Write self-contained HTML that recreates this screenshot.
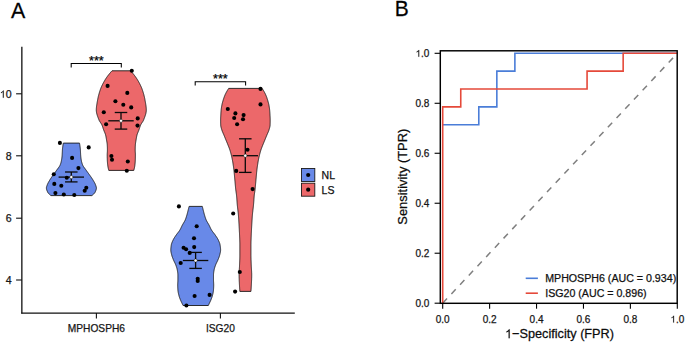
<!DOCTYPE html>
<html><head><meta charset="utf-8"><style>
html,body{margin:0;padding:0;background:#fff;width:685px;height:342px;overflow:hidden}
svg{display:block}
text{font-family:"Liberation Sans",sans-serif;stroke:#111;stroke-width:0.25px}
.tk{font-size:10.6px;fill:#1a1a1a}
.tkx{font-size:10.2px;fill:#1a1a1a}
.tkr{font-size:10px;fill:#1a1a1a}
.star{font-size:12.6px;fill:#000}
.leg{font-size:10.5px;fill:#111}
.legr{font-size:10.65px;fill:#111}
.ttl{font-size:12.9px;fill:#0a0a0a}
.ttl2{font-size:12.7px;fill:#0a0a0a}
.pl{font-size:21px;fill:#000}
</style></head><body>
<svg width="685" height="342" viewBox="0 0 685 342">
<line x1="21.85" y1="46.8" x2="21.85" y2="313.5" stroke="#111" stroke-width="1.3"/>
<line x1="21.2" y1="313.1" x2="294.8" y2="313.1" stroke="#111" stroke-width="1.3"/>
<line x1="16.1" y1="93.8" x2="21.85" y2="93.8" stroke="#111" stroke-width="1.1"/>
<text x="11.6" y="97.75" text-anchor="end" class="tk"> 0</text>
<path transform=" translate(-0.190,97.750) scale(0.005176,-0.005176)" d="M763,0 L583,0 L583,1098 Q518,1038 412,979 Q307,920 223,890 L223,1057 Q374,1125 487,1221 Q600,1318 647,1409 L763,1409 Z" fill="#1a1a1a" stroke="#111" stroke-width="0.1" vector-effect="non-scaling-stroke"/>
<line x1="16.1" y1="155.8" x2="21.85" y2="155.8" stroke="#111" stroke-width="1.1"/>
<text x="11.6" y="159.75" text-anchor="end" class="tk">8</text>
<line x1="16.1" y1="218.2" x2="21.85" y2="218.2" stroke="#111" stroke-width="1.1"/>
<text x="11.6" y="222.14999999999998" text-anchor="end" class="tk">6</text>
<line x1="16.1" y1="280" x2="21.85" y2="280" stroke="#111" stroke-width="1.1"/>
<text x="11.6" y="283.95" text-anchor="end" class="tk">4</text>
<line x1="96.4" y1="312.9" x2="96.4" y2="318.5" stroke="#111" stroke-width="1.1"/>
<text x="96.4" y="331.6" text-anchor="middle" class="tkx">MPHOSPH6</text>
<line x1="220.4" y1="312.9" x2="220.4" y2="318.5" stroke="#111" stroke-width="1.1"/>
<text x="220.4" y="331.6" text-anchor="middle" class="tkx">ISG20</text>
<path d="M79.50,143.10 L79.59,143.60 L79.67,144.09 L79.75,144.59 L79.83,145.08 L79.90,145.58 L79.98,146.07 L80.04,146.57 L80.11,147.06 L80.17,147.56 L80.22,148.05 L80.28,148.55 L80.32,149.04 L80.37,149.54 L80.40,150.03 L80.43,150.53 L80.46,151.02 L80.48,151.52 L80.51,152.02 L80.53,152.51 L80.55,153.01 L80.57,153.50 L80.59,154.00 L80.62,154.49 L80.65,154.99 L80.69,155.48 L80.73,155.98 L80.78,156.47 L80.83,156.97 L80.88,157.46 L80.95,157.96 L81.01,158.45 L81.08,158.95 L81.16,159.44 L81.24,159.94 L81.33,160.43 L81.43,160.93 L81.53,161.43 L81.65,161.92 L81.78,162.42 L81.93,162.91 L82.08,163.41 L82.24,163.90 L82.42,164.40 L82.61,164.89 L82.82,165.39 L83.07,165.88 L83.37,166.38 L83.69,166.87 L84.04,167.37 L84.41,167.86 L84.78,168.36 L85.16,168.85 L85.53,169.35 L85.89,169.85 L86.24,170.34 L86.59,170.84 L86.95,171.33 L87.30,171.83 L87.67,172.32 L88.03,172.82 L88.39,173.31 L88.75,173.81 L89.11,174.30 L89.46,174.80 L89.81,175.29 L90.16,175.79 L90.51,176.28 L90.86,176.78 L91.21,177.27 L91.56,177.77 L91.89,178.27 L92.23,178.76 L92.54,179.26 L92.85,179.75 L93.15,180.25 L93.44,180.74 L93.73,181.24 L94.02,181.73 L94.30,182.23 L94.57,182.72 L94.83,183.22 L95.07,183.71 L95.29,184.21 L95.49,184.70 L95.67,185.20 L95.85,185.69 L96.03,186.19 L96.18,186.68 L96.31,187.18 L96.38,187.68 L96.40,188.17 L96.35,188.67 L96.26,189.16 L96.14,189.66 L95.98,190.15 L95.79,190.65 L95.58,191.14 L95.36,191.64 L95.14,192.13 L94.85,192.63 L94.49,193.12 L94.06,193.62 L93.58,194.11 L93.05,194.61 L92.49,195.10 L91.90,195.60 L50.90,195.60 L50.31,195.10 L49.75,194.61 L49.22,194.11 L48.74,193.62 L48.31,193.12 L47.95,192.63 L47.66,192.13 L47.44,191.64 L47.22,191.14 L47.01,190.65 L46.82,190.15 L46.66,189.66 L46.54,189.16 L46.45,188.67 L46.40,188.17 L46.42,187.68 L46.49,187.18 L46.62,186.68 L46.77,186.19 L46.95,185.69 L47.13,185.20 L47.31,184.70 L47.51,184.21 L47.73,183.71 L47.97,183.22 L48.23,182.72 L48.50,182.23 L48.78,181.73 L49.07,181.24 L49.36,180.74 L49.65,180.25 L49.95,179.75 L50.26,179.26 L50.57,178.76 L50.91,178.27 L51.24,177.77 L51.59,177.27 L51.94,176.78 L52.29,176.28 L52.64,175.79 L52.99,175.29 L53.34,174.80 L53.69,174.30 L54.05,173.81 L54.41,173.31 L54.77,172.82 L55.13,172.32 L55.50,171.83 L55.85,171.33 L56.21,170.84 L56.56,170.34 L56.91,169.85 L57.27,169.35 L57.64,168.85 L58.02,168.36 L58.39,167.86 L58.76,167.37 L59.11,166.87 L59.43,166.38 L59.73,165.88 L59.98,165.39 L60.19,164.89 L60.38,164.40 L60.56,163.90 L60.72,163.41 L60.87,162.91 L61.02,162.42 L61.15,161.92 L61.27,161.43 L61.37,160.93 L61.47,160.43 L61.56,159.94 L61.64,159.44 L61.72,158.95 L61.79,158.45 L61.85,157.96 L61.92,157.46 L61.97,156.97 L62.02,156.47 L62.07,155.98 L62.11,155.48 L62.15,154.99 L62.18,154.49 L62.21,154.00 L62.23,153.50 L62.25,153.01 L62.27,152.51 L62.29,152.02 L62.32,151.52 L62.34,151.02 L62.37,150.53 L62.40,150.03 L62.43,149.54 L62.48,149.04 L62.52,148.55 L62.58,148.05 L62.63,147.56 L62.69,147.06 L62.76,146.57 L62.82,146.07 L62.90,145.58 L62.97,145.08 L63.05,144.59 L63.13,144.09 L63.21,143.60 L63.30,143.10 Z" fill="#6889e8" stroke="#1a1a1a" stroke-width="0.9" stroke-linejoin="round"/>
<path d="M130.60,70.80 L131.04,71.30 L131.48,71.80 L131.91,72.29 L132.34,72.79 L132.76,73.29 L133.17,73.79 L133.57,74.29 L133.97,74.78 L134.36,75.28 L134.74,75.78 L135.11,76.28 L135.48,76.78 L135.83,77.27 L136.18,77.77 L136.51,78.27 L136.84,78.77 L137.15,79.27 L137.46,79.76 L137.75,80.26 L138.04,80.76 L138.33,81.26 L138.61,81.76 L138.89,82.25 L139.16,82.75 L139.43,83.25 L139.69,83.75 L139.94,84.25 L140.19,84.74 L140.43,85.24 L140.67,85.74 L140.90,86.24 L141.12,86.74 L141.34,87.23 L141.55,87.73 L141.75,88.23 L141.94,88.73 L142.13,89.23 L142.31,89.72 L142.47,90.22 L142.64,90.72 L142.80,91.22 L142.96,91.72 L143.11,92.21 L143.26,92.71 L143.41,93.21 L143.55,93.71 L143.69,94.21 L143.83,94.70 L143.96,95.20 L144.08,95.70 L144.21,96.20 L144.33,96.70 L144.44,97.19 L144.55,97.69 L144.66,98.19 L144.76,98.69 L144.85,99.19 L144.94,99.68 L145.03,100.18 L145.12,100.68 L145.21,101.18 L145.30,101.68 L145.39,102.17 L145.48,102.67 L145.57,103.17 L145.65,103.67 L145.73,104.17 L145.81,104.66 L145.89,105.16 L145.96,105.66 L146.03,106.16 L146.09,106.66 L146.14,107.15 L146.19,107.65 L146.23,108.15 L146.26,108.65 L146.28,109.15 L146.30,109.64 L146.30,110.14 L146.28,110.64 L146.25,111.14 L146.19,111.64 L146.12,112.13 L146.03,112.63 L145.93,113.13 L145.82,113.63 L145.69,114.13 L145.55,114.62 L145.40,115.12 L145.23,115.62 L145.07,116.12 L144.89,116.62 L144.71,117.11 L144.52,117.61 L144.33,118.11 L144.14,118.61 L143.95,119.11 L143.75,119.60 L143.56,120.10 L143.33,120.60 L143.06,121.10 L142.76,121.60 L142.43,122.09 L142.10,122.59 L141.76,123.09 L141.43,123.59 L141.13,124.09 L140.85,124.58 L140.61,125.08 L140.41,125.58 L140.22,126.08 L140.04,126.58 L139.87,127.07 L139.70,127.57 L139.55,128.07 L139.39,128.57 L139.22,129.07 L139.05,129.56 L138.88,130.06 L138.69,130.56 L138.49,131.06 L138.28,131.56 L138.07,132.05 L137.86,132.55 L137.66,133.05 L137.46,133.55 L137.29,134.05 L137.13,134.54 L136.99,135.04 L136.87,135.54 L136.76,136.04 L136.65,136.54 L136.55,137.03 L136.46,137.53 L136.37,138.03 L136.29,138.53 L136.21,139.03 L136.13,139.52 L136.05,140.02 L135.96,140.52 L135.88,141.02 L135.79,141.52 L135.71,142.01 L135.63,142.51 L135.55,143.01 L135.49,143.51 L135.43,144.01 L135.38,144.50 L135.35,145.00 L135.33,145.50 L135.30,146.00 L135.28,146.50 L135.26,146.99 L135.24,147.49 L135.23,147.99 L135.22,148.49 L135.21,148.99 L135.20,149.48 L135.20,149.98 L135.21,150.48 L135.22,150.98 L135.24,151.48 L135.27,151.97 L135.30,152.47 L135.33,152.97 L135.36,153.47 L135.38,153.97 L135.39,154.46 L135.40,154.96 L135.40,155.46 L135.40,155.96 L135.39,156.46 L135.38,156.95 L135.37,157.45 L135.36,157.95 L135.35,158.45 L135.33,158.95 L135.32,159.44 L135.30,159.94 L135.28,160.44 L135.26,160.94 L135.23,161.44 L135.20,161.93 L135.16,162.43 L135.11,162.93 L135.07,163.43 L135.02,163.93 L134.96,164.42 L134.91,164.92 L134.85,165.42 L134.78,165.92 L134.70,166.42 L134.61,166.91 L134.51,167.41 L134.41,167.91 L134.30,168.41 L134.18,168.91 L134.06,169.40 L133.93,169.90 L133.80,170.40 L108.80,170.40 L108.67,169.90 L108.54,169.40 L108.42,168.91 L108.30,168.41 L108.19,167.91 L108.09,167.41 L107.99,166.91 L107.90,166.42 L107.82,165.92 L107.75,165.42 L107.69,164.92 L107.64,164.42 L107.58,163.93 L107.53,163.43 L107.49,162.93 L107.44,162.43 L107.40,161.93 L107.37,161.44 L107.34,160.94 L107.32,160.44 L107.30,159.94 L107.28,159.44 L107.27,158.95 L107.25,158.45 L107.24,157.95 L107.23,157.45 L107.22,156.95 L107.21,156.46 L107.20,155.96 L107.20,155.46 L107.20,154.96 L107.21,154.46 L107.22,153.97 L107.24,153.47 L107.27,152.97 L107.30,152.47 L107.33,151.97 L107.36,151.48 L107.38,150.98 L107.39,150.48 L107.40,149.98 L107.40,149.48 L107.39,148.99 L107.38,148.49 L107.37,147.99 L107.36,147.49 L107.34,146.99 L107.32,146.50 L107.30,146.00 L107.27,145.50 L107.25,145.00 L107.22,144.50 L107.17,144.01 L107.11,143.51 L107.05,143.01 L106.97,142.51 L106.89,142.01 L106.81,141.52 L106.72,141.02 L106.64,140.52 L106.55,140.02 L106.47,139.52 L106.39,139.03 L106.31,138.53 L106.23,138.03 L106.14,137.53 L106.05,137.03 L105.95,136.54 L105.84,136.04 L105.73,135.54 L105.61,135.04 L105.47,134.54 L105.31,134.05 L105.14,133.55 L104.94,133.05 L104.74,132.55 L104.53,132.05 L104.32,131.56 L104.11,131.06 L103.91,130.56 L103.72,130.06 L103.55,129.56 L103.38,129.07 L103.21,128.57 L103.05,128.07 L102.90,127.57 L102.73,127.07 L102.56,126.58 L102.38,126.08 L102.19,125.58 L101.99,125.08 L101.75,124.58 L101.47,124.09 L101.17,123.59 L100.84,123.09 L100.50,122.59 L100.17,122.09 L99.84,121.60 L99.54,121.10 L99.27,120.60 L99.04,120.10 L98.85,119.60 L98.65,119.11 L98.46,118.61 L98.27,118.11 L98.08,117.61 L97.89,117.11 L97.71,116.62 L97.53,116.12 L97.37,115.62 L97.20,115.12 L97.05,114.62 L96.91,114.13 L96.78,113.63 L96.67,113.13 L96.57,112.63 L96.48,112.13 L96.41,111.64 L96.35,111.14 L96.32,110.64 L96.30,110.14 L96.30,109.64 L96.32,109.15 L96.34,108.65 L96.37,108.15 L96.41,107.65 L96.46,107.15 L96.51,106.66 L96.57,106.16 L96.64,105.66 L96.71,105.16 L96.79,104.66 L96.87,104.17 L96.95,103.67 L97.03,103.17 L97.12,102.67 L97.21,102.17 L97.30,101.68 L97.39,101.18 L97.48,100.68 L97.57,100.18 L97.66,99.68 L97.75,99.19 L97.84,98.69 L97.94,98.19 L98.05,97.69 L98.16,97.19 L98.27,96.70 L98.39,96.20 L98.52,95.70 L98.64,95.20 L98.77,94.70 L98.91,94.21 L99.05,93.71 L99.19,93.21 L99.34,92.71 L99.49,92.21 L99.64,91.72 L99.80,91.22 L99.96,90.72 L100.13,90.22 L100.29,89.72 L100.47,89.23 L100.66,88.73 L100.85,88.23 L101.05,87.73 L101.26,87.23 L101.48,86.74 L101.70,86.24 L101.93,85.74 L102.17,85.24 L102.41,84.74 L102.66,84.25 L102.91,83.75 L103.17,83.25 L103.44,82.75 L103.71,82.25 L103.99,81.76 L104.27,81.26 L104.56,80.76 L104.85,80.26 L105.14,79.76 L105.45,79.27 L105.76,78.77 L106.09,78.27 L106.42,77.77 L106.77,77.27 L107.12,76.78 L107.49,76.28 L107.86,75.78 L108.24,75.28 L108.63,74.78 L109.03,74.29 L109.43,73.79 L109.84,73.29 L110.26,72.79 L110.69,72.29 L111.12,71.80 L111.56,71.30 L112.00,70.80 Z" fill="#ec686a" stroke="#1a1a1a" stroke-width="0.9" stroke-linejoin="round"/>
<path d="M202.30,206.40 L202.42,206.90 L202.55,207.40 L202.67,207.89 L202.79,208.39 L202.92,208.89 L203.04,209.39 L203.17,209.89 L203.30,210.38 L203.42,210.88 L203.55,211.38 L203.67,211.88 L203.79,212.38 L203.92,212.87 L204.05,213.37 L204.18,213.87 L204.32,214.37 L204.46,214.87 L204.61,215.36 L204.76,215.86 L204.91,216.36 L205.06,216.86 L205.22,217.36 L205.39,217.85 L205.56,218.35 L205.74,218.85 L205.93,219.35 L206.14,219.85 L206.35,220.34 L206.60,220.84 L206.86,221.34 L207.14,221.84 L207.44,222.34 L207.74,222.83 L208.04,223.33 L208.34,223.83 L208.63,224.33 L208.91,224.83 L209.17,225.32 L209.42,225.82 L209.66,226.32 L209.89,226.82 L210.12,227.32 L210.36,227.81 L210.59,228.31 L210.84,228.81 L211.11,229.31 L211.39,229.81 L211.69,230.30 L212.02,230.80 L212.38,231.30 L212.75,231.80 L213.14,232.30 L213.53,232.79 L213.93,233.29 L214.32,233.79 L214.69,234.29 L215.05,234.79 L215.39,235.28 L215.73,235.78 L216.07,236.28 L216.41,236.78 L216.74,237.28 L217.06,237.77 L217.37,238.27 L217.66,238.77 L217.94,239.27 L218.19,239.77 L218.42,240.26 L218.65,240.76 L218.87,241.26 L219.08,241.76 L219.29,242.26 L219.48,242.75 L219.66,243.25 L219.82,243.75 L219.95,244.25 L220.06,244.75 L220.14,245.24 L220.21,245.74 L220.29,246.24 L220.35,246.74 L220.42,247.24 L220.47,247.73 L220.52,248.23 L220.56,248.73 L220.58,249.23 L220.60,249.73 L220.60,250.22 L220.57,250.72 L220.52,251.22 L220.45,251.72 L220.36,252.22 L220.25,252.71 L220.14,253.21 L220.02,253.71 L219.90,254.21 L219.77,254.71 L219.65,255.20 L219.51,255.70 L219.36,256.20 L219.19,256.70 L219.02,257.19 L218.83,257.69 L218.63,258.19 L218.43,258.69 L218.23,259.19 L218.03,259.68 L217.82,260.18 L217.61,260.68 L217.38,261.18 L217.13,261.68 L216.89,262.17 L216.64,262.67 L216.39,263.17 L216.16,263.67 L215.93,264.17 L215.73,264.66 L215.54,265.16 L215.36,265.66 L215.18,266.16 L215.01,266.66 L214.84,267.15 L214.68,267.65 L214.53,268.15 L214.40,268.65 L214.27,269.15 L214.17,269.64 L214.08,270.14 L213.99,270.64 L213.90,271.14 L213.82,271.64 L213.75,272.13 L213.67,272.63 L213.61,273.13 L213.56,273.63 L213.53,274.13 L213.51,274.62 L213.50,275.12 L213.50,275.62 L213.50,276.12 L213.50,276.62 L213.50,277.11 L213.50,277.61 L213.50,278.11 L213.50,278.61 L213.50,279.11 L213.50,279.60 L213.50,280.10 L213.51,280.60 L213.52,281.10 L213.55,281.60 L213.58,282.09 L213.61,282.59 L213.63,283.09 L213.66,283.59 L213.68,284.09 L213.70,284.58 L213.70,285.08 L213.70,285.58 L213.69,286.08 L213.68,286.58 L213.66,287.07 L213.64,287.57 L213.61,288.07 L213.59,288.57 L213.56,289.07 L213.53,289.56 L213.50,290.06 L213.45,290.56 L213.39,291.06 L213.32,291.56 L213.24,292.05 L213.15,292.55 L213.04,293.05 L212.94,293.55 L212.82,294.05 L212.71,294.54 L212.59,295.04 L212.46,295.54 L212.33,296.04 L212.17,296.54 L212.01,297.03 L211.84,297.53 L211.66,298.03 L211.48,298.53 L211.28,299.03 L211.09,299.52 L210.89,300.02 L210.68,300.52 L210.46,301.02 L210.22,301.52 L209.98,302.01 L209.73,302.51 L209.50,303.01 L209.26,303.51 L209.02,304.01 L208.78,304.50 L208.54,305.00 L208.30,305.50 L183.10,305.50 L182.86,305.00 L182.62,304.50 L182.38,304.01 L182.14,303.51 L181.90,303.01 L181.67,302.51 L181.42,302.01 L181.18,301.52 L180.94,301.02 L180.72,300.52 L180.51,300.02 L180.31,299.52 L180.12,299.03 L179.92,298.53 L179.74,298.03 L179.56,297.53 L179.39,297.03 L179.23,296.54 L179.07,296.04 L178.94,295.54 L178.81,295.04 L178.69,294.54 L178.58,294.05 L178.46,293.55 L178.36,293.05 L178.25,292.55 L178.16,292.05 L178.08,291.56 L178.01,291.06 L177.95,290.56 L177.90,290.06 L177.87,289.56 L177.84,289.07 L177.81,288.57 L177.79,288.07 L177.76,287.57 L177.74,287.07 L177.72,286.58 L177.71,286.08 L177.70,285.58 L177.70,285.08 L177.70,284.58 L177.72,284.09 L177.74,283.59 L177.77,283.09 L177.79,282.59 L177.82,282.09 L177.85,281.60 L177.88,281.10 L177.89,280.60 L177.90,280.10 L177.90,279.60 L177.90,279.11 L177.90,278.61 L177.90,278.11 L177.90,277.61 L177.90,277.11 L177.90,276.62 L177.90,276.12 L177.90,275.62 L177.90,275.12 L177.89,274.62 L177.87,274.13 L177.84,273.63 L177.79,273.13 L177.73,272.63 L177.65,272.13 L177.58,271.64 L177.50,271.14 L177.41,270.64 L177.32,270.14 L177.23,269.64 L177.13,269.15 L177.00,268.65 L176.87,268.15 L176.72,267.65 L176.56,267.15 L176.39,266.66 L176.22,266.16 L176.04,265.66 L175.86,265.16 L175.67,264.66 L175.47,264.17 L175.24,263.67 L175.01,263.17 L174.76,262.67 L174.51,262.17 L174.27,261.68 L174.02,261.18 L173.79,260.68 L173.58,260.18 L173.37,259.68 L173.17,259.19 L172.97,258.69 L172.77,258.19 L172.57,257.69 L172.38,257.19 L172.21,256.70 L172.04,256.20 L171.89,255.70 L171.75,255.20 L171.63,254.71 L171.50,254.21 L171.38,253.71 L171.26,253.21 L171.15,252.71 L171.04,252.22 L170.95,251.72 L170.88,251.22 L170.83,250.72 L170.80,250.22 L170.80,249.73 L170.82,249.23 L170.84,248.73 L170.88,248.23 L170.93,247.73 L170.98,247.24 L171.05,246.74 L171.11,246.24 L171.19,245.74 L171.26,245.24 L171.34,244.75 L171.45,244.25 L171.58,243.75 L171.74,243.25 L171.92,242.75 L172.11,242.26 L172.32,241.76 L172.53,241.26 L172.75,240.76 L172.98,240.26 L173.21,239.77 L173.46,239.27 L173.74,238.77 L174.03,238.27 L174.34,237.77 L174.66,237.28 L174.99,236.78 L175.33,236.28 L175.67,235.78 L176.01,235.28 L176.35,234.79 L176.71,234.29 L177.08,233.79 L177.47,233.29 L177.87,232.79 L178.26,232.30 L178.65,231.80 L179.02,231.30 L179.38,230.80 L179.71,230.30 L180.01,229.81 L180.29,229.31 L180.56,228.81 L180.81,228.31 L181.04,227.81 L181.28,227.32 L181.51,226.82 L181.74,226.32 L181.98,225.82 L182.23,225.32 L182.49,224.83 L182.77,224.33 L183.06,223.83 L183.36,223.33 L183.66,222.83 L183.96,222.34 L184.26,221.84 L184.54,221.34 L184.80,220.84 L185.05,220.34 L185.26,219.85 L185.47,219.35 L185.66,218.85 L185.84,218.35 L186.01,217.85 L186.18,217.36 L186.34,216.86 L186.49,216.36 L186.64,215.86 L186.79,215.36 L186.94,214.87 L187.08,214.37 L187.22,213.87 L187.35,213.37 L187.48,212.87 L187.61,212.38 L187.73,211.88 L187.85,211.38 L187.98,210.88 L188.10,210.38 L188.23,209.89 L188.36,209.39 L188.48,208.89 L188.61,208.39 L188.73,207.89 L188.85,207.40 L188.98,206.90 L189.10,206.40 Z" fill="#6889e8" stroke="#1a1a1a" stroke-width="0.9" stroke-linejoin="round"/>
<path d="M262.10,88.40 L262.43,88.90 L262.76,89.40 L263.08,89.90 L263.39,90.40 L263.69,90.90 L263.98,91.40 L264.26,91.90 L264.53,92.40 L264.80,92.90 L265.05,93.40 L265.30,93.90 L265.53,94.40 L265.76,94.90 L265.97,95.40 L266.18,95.90 L266.37,96.40 L266.56,96.90 L266.75,97.40 L266.92,97.90 L267.09,98.40 L267.26,98.90 L267.42,99.40 L267.57,99.90 L267.72,100.40 L267.87,100.90 L268.01,101.40 L268.16,101.90 L268.29,102.40 L268.42,102.90 L268.55,103.40 L268.67,103.90 L268.78,104.40 L268.88,104.90 L268.98,105.40 L269.07,105.90 L269.15,106.40 L269.24,106.90 L269.32,107.40 L269.39,107.90 L269.46,108.40 L269.53,108.90 L269.59,109.40 L269.64,109.90 L269.69,110.40 L269.73,110.90 L269.77,111.40 L269.81,111.90 L269.85,112.40 L269.88,112.90 L269.91,113.40 L269.94,113.90 L269.97,114.40 L269.99,114.90 L270.02,115.40 L270.05,115.90 L270.08,116.40 L270.10,116.90 L270.13,117.40 L270.15,117.90 L270.17,118.40 L270.18,118.90 L270.20,119.40 L270.20,119.90 L270.20,120.40 L270.20,120.90 L270.19,121.40 L270.18,121.90 L270.18,122.40 L270.16,122.90 L270.15,123.40 L270.14,123.90 L270.12,124.40 L270.10,124.90 L270.08,125.40 L270.02,125.90 L269.94,126.40 L269.83,126.90 L269.71,127.40 L269.58,127.90 L269.43,128.40 L269.28,128.90 L269.13,129.40 L268.98,129.90 L268.83,130.40 L268.65,130.90 L268.46,131.40 L268.26,131.90 L268.04,132.40 L267.82,132.90 L267.60,133.40 L267.37,133.90 L267.15,134.40 L266.94,134.90 L266.74,135.40 L266.53,135.90 L266.33,136.40 L266.12,136.90 L265.92,137.40 L265.71,137.90 L265.51,138.40 L265.30,138.90 L265.10,139.40 L264.89,139.90 L264.69,140.40 L264.48,140.90 L264.27,141.40 L264.06,141.90 L263.86,142.40 L263.65,142.90 L263.44,143.40 L263.24,143.90 L263.04,144.40 L262.84,144.90 L262.64,145.40 L262.44,145.90 L262.24,146.40 L262.04,146.90 L261.84,147.40 L261.65,147.90 L261.46,148.40 L261.28,148.90 L261.10,149.40 L260.93,149.90 L260.77,150.40 L260.62,150.90 L260.47,151.40 L260.32,151.90 L260.18,152.40 L260.04,152.90 L259.91,153.40 L259.78,153.90 L259.65,154.40 L259.52,154.90 L259.40,155.40 L259.28,155.90 L259.16,156.40 L259.05,156.90 L258.93,157.40 L258.82,157.90 L258.71,158.40 L258.61,158.90 L258.51,159.40 L258.42,159.90 L258.33,160.40 L258.24,160.90 L258.15,161.40 L258.07,161.90 L257.98,162.40 L257.90,162.90 L257.82,163.40 L257.74,163.90 L257.66,164.40 L257.58,164.90 L257.51,165.40 L257.43,165.90 L257.36,166.40 L257.29,166.90 L257.23,167.40 L257.16,167.90 L257.10,168.40 L257.03,168.90 L256.97,169.40 L256.91,169.90 L256.85,170.40 L256.80,170.90 L256.74,171.40 L256.69,171.90 L256.64,172.40 L256.59,172.90 L256.55,173.40 L256.50,173.90 L256.45,174.40 L256.41,174.90 L256.36,175.40 L256.32,175.90 L256.27,176.40 L256.23,176.90 L256.19,177.40 L256.14,177.90 L256.10,178.40 L256.05,178.90 L256.01,179.40 L255.96,179.90 L255.91,180.40 L255.87,180.90 L255.82,181.40 L255.78,181.90 L255.73,182.40 L255.69,182.90 L255.64,183.40 L255.60,183.90 L255.55,184.40 L255.51,184.90 L255.46,185.40 L255.42,185.90 L255.37,186.40 L255.32,186.90 L255.28,187.40 L255.23,187.90 L255.18,188.40 L255.12,188.90 L255.07,189.40 L255.01,189.90 L254.95,190.40 L254.88,190.90 L254.81,191.40 L254.74,191.90 L254.66,192.40 L254.58,192.90 L254.51,193.40 L254.44,193.90 L254.37,194.40 L254.31,194.90 L254.26,195.40 L254.21,195.90 L254.16,196.40 L254.12,196.90 L254.08,197.40 L254.04,197.90 L254.00,198.40 L253.96,198.90 L253.93,199.40 L253.89,199.90 L253.86,200.40 L253.82,200.90 L253.79,201.40 L253.75,201.90 L253.71,202.40 L253.68,202.90 L253.64,203.40 L253.60,203.90 L253.55,204.40 L253.51,204.90 L253.46,205.40 L253.41,205.90 L253.36,206.40 L253.30,206.90 L253.25,207.40 L253.19,207.90 L253.13,208.40 L253.07,208.90 L253.01,209.40 L252.95,209.90 L252.89,210.40 L252.83,210.90 L252.77,211.40 L252.71,211.90 L252.65,212.40 L252.60,212.90 L252.55,213.40 L252.50,213.90 L252.45,214.40 L252.41,214.90 L252.37,215.40 L252.33,215.90 L252.29,216.40 L252.25,216.90 L252.22,217.40 L252.18,217.90 L252.15,218.40 L252.11,218.90 L252.08,219.40 L252.05,219.90 L252.02,220.40 L251.99,220.90 L251.96,221.40 L251.93,221.90 L251.90,222.40 L251.87,222.90 L251.84,223.40 L251.81,223.90 L251.78,224.40 L251.76,224.90 L251.73,225.40 L251.70,225.90 L251.67,226.40 L251.64,226.90 L251.62,227.40 L251.59,227.90 L251.56,228.40 L251.53,228.90 L251.51,229.40 L251.48,229.90 L251.46,230.40 L251.43,230.90 L251.41,231.40 L251.38,231.90 L251.36,232.40 L251.34,232.90 L251.31,233.40 L251.29,233.90 L251.27,234.40 L251.25,234.90 L251.23,235.40 L251.22,235.90 L251.20,236.40 L251.17,236.90 L251.15,237.40 L251.13,237.90 L251.11,238.40 L251.09,238.90 L251.08,239.40 L251.06,239.90 L251.04,240.40 L251.02,240.90 L251.01,241.40 L250.99,241.90 L250.98,242.40 L250.97,242.90 L250.96,243.40 L250.96,243.90 L250.95,244.40 L250.95,244.90 L250.95,245.40 L250.95,245.90 L250.95,246.40 L250.95,246.90 L250.95,247.40 L250.95,247.90 L250.95,248.40 L250.95,248.90 L250.95,249.40 L250.95,249.90 L250.95,250.40 L250.95,250.90 L250.95,251.40 L250.95,251.90 L250.95,252.40 L250.95,252.90 L250.95,253.40 L250.95,253.90 L250.95,254.40 L250.95,254.90 L250.95,255.40 L250.95,255.90 L250.96,256.40 L250.97,256.90 L250.98,257.40 L250.99,257.90 L251.00,258.40 L251.02,258.90 L251.03,259.40 L251.05,259.90 L251.07,260.40 L251.09,260.90 L251.11,261.40 L251.13,261.90 L251.15,262.40 L251.17,262.90 L251.19,263.40 L251.21,263.90 L251.23,264.40 L251.25,264.90 L251.27,265.40 L251.29,265.90 L251.31,266.40 L251.34,266.90 L251.37,267.40 L251.39,267.90 L251.42,268.40 L251.45,268.90 L251.48,269.40 L251.51,269.90 L251.54,270.40 L251.57,270.90 L251.60,271.40 L251.62,271.90 L251.64,272.40 L251.66,272.90 L251.68,273.40 L251.69,273.90 L251.70,274.40 L251.70,274.90 L251.70,275.40 L251.70,275.90 L251.69,276.40 L251.68,276.90 L251.67,277.40 L251.66,277.90 L251.64,278.40 L251.62,278.90 L251.61,279.40 L251.59,279.90 L251.57,280.40 L251.54,280.90 L251.52,281.40 L251.50,281.90 L251.47,282.40 L251.45,282.90 L251.43,283.40 L251.40,283.90 L251.38,284.40 L251.35,284.90 L251.33,285.40 L251.31,285.90 L251.28,286.40 L251.25,286.90 L251.22,287.40 L251.19,287.90 L251.16,288.40 L251.13,288.90 L251.09,289.40 L251.06,289.90 L251.02,290.40 L250.99,290.90 L250.95,291.40 L239.85,291.40 L239.81,290.90 L239.78,290.40 L239.74,289.90 L239.71,289.40 L239.67,288.90 L239.64,288.40 L239.61,287.90 L239.58,287.40 L239.55,286.90 L239.52,286.40 L239.49,285.90 L239.47,285.40 L239.45,284.90 L239.42,284.40 L239.40,283.90 L239.37,283.40 L239.35,282.90 L239.33,282.40 L239.30,281.90 L239.28,281.40 L239.26,280.90 L239.23,280.40 L239.21,279.90 L239.19,279.40 L239.18,278.90 L239.16,278.40 L239.14,277.90 L239.13,277.40 L239.12,276.90 L239.11,276.40 L239.10,275.90 L239.10,275.40 L239.10,274.90 L239.10,274.40 L239.11,273.90 L239.12,273.40 L239.14,272.90 L239.16,272.40 L239.18,271.90 L239.20,271.40 L239.23,270.90 L239.26,270.40 L239.29,269.90 L239.32,269.40 L239.35,268.90 L239.38,268.40 L239.41,267.90 L239.43,267.40 L239.46,266.90 L239.49,266.40 L239.51,265.90 L239.53,265.40 L239.55,264.90 L239.57,264.40 L239.59,263.90 L239.61,263.40 L239.63,262.90 L239.65,262.40 L239.67,261.90 L239.69,261.40 L239.71,260.90 L239.73,260.40 L239.75,259.90 L239.77,259.40 L239.78,258.90 L239.80,258.40 L239.81,257.90 L239.82,257.40 L239.83,256.90 L239.84,256.40 L239.85,255.90 L239.85,255.40 L239.85,254.90 L239.85,254.40 L239.85,253.90 L239.85,253.40 L239.85,252.90 L239.85,252.40 L239.85,251.90 L239.85,251.40 L239.85,250.90 L239.85,250.40 L239.85,249.90 L239.85,249.40 L239.85,248.90 L239.85,248.40 L239.85,247.90 L239.85,247.40 L239.85,246.90 L239.85,246.40 L239.85,245.90 L239.85,245.40 L239.85,244.90 L239.85,244.40 L239.84,243.90 L239.84,243.40 L239.83,242.90 L239.82,242.40 L239.81,241.90 L239.79,241.40 L239.78,240.90 L239.76,240.40 L239.74,239.90 L239.72,239.40 L239.71,238.90 L239.69,238.40 L239.67,237.90 L239.65,237.40 L239.63,236.90 L239.60,236.40 L239.58,235.90 L239.57,235.40 L239.55,234.90 L239.53,234.40 L239.51,233.90 L239.49,233.40 L239.46,232.90 L239.44,232.40 L239.42,231.90 L239.39,231.40 L239.37,230.90 L239.34,230.40 L239.32,229.90 L239.29,229.40 L239.27,228.90 L239.24,228.40 L239.21,227.90 L239.18,227.40 L239.16,226.90 L239.13,226.40 L239.10,225.90 L239.07,225.40 L239.04,224.90 L239.02,224.40 L238.99,223.90 L238.96,223.40 L238.93,222.90 L238.90,222.40 L238.87,221.90 L238.84,221.40 L238.81,220.90 L238.78,220.40 L238.75,219.90 L238.72,219.40 L238.69,218.90 L238.65,218.40 L238.62,217.90 L238.58,217.40 L238.55,216.90 L238.51,216.40 L238.47,215.90 L238.43,215.40 L238.39,214.90 L238.35,214.40 L238.30,213.90 L238.25,213.40 L238.20,212.90 L238.15,212.40 L238.09,211.90 L238.03,211.40 L237.97,210.90 L237.91,210.40 L237.85,209.90 L237.79,209.40 L237.73,208.90 L237.67,208.40 L237.61,207.90 L237.55,207.40 L237.50,206.90 L237.44,206.40 L237.39,205.90 L237.34,205.40 L237.29,204.90 L237.25,204.40 L237.20,203.90 L237.16,203.40 L237.12,202.90 L237.09,202.40 L237.05,201.90 L237.01,201.40 L236.98,200.90 L236.94,200.40 L236.91,199.90 L236.87,199.40 L236.84,198.90 L236.80,198.40 L236.76,197.90 L236.72,197.40 L236.68,196.90 L236.64,196.40 L236.59,195.90 L236.54,195.40 L236.49,194.90 L236.43,194.40 L236.36,193.90 L236.29,193.40 L236.22,192.90 L236.14,192.40 L236.06,191.90 L235.99,191.40 L235.92,190.90 L235.85,190.40 L235.79,189.90 L235.73,189.40 L235.68,188.90 L235.62,188.40 L235.57,187.90 L235.52,187.40 L235.48,186.90 L235.43,186.40 L235.38,185.90 L235.34,185.40 L235.29,184.90 L235.25,184.40 L235.20,183.90 L235.16,183.40 L235.11,182.90 L235.07,182.40 L235.02,181.90 L234.98,181.40 L234.93,180.90 L234.89,180.40 L234.84,179.90 L234.79,179.40 L234.75,178.90 L234.70,178.40 L234.66,177.90 L234.61,177.40 L234.57,176.90 L234.53,176.40 L234.48,175.90 L234.44,175.40 L234.39,174.90 L234.35,174.40 L234.30,173.90 L234.25,173.40 L234.21,172.90 L234.16,172.40 L234.11,171.90 L234.06,171.40 L234.00,170.90 L233.95,170.40 L233.89,169.90 L233.83,169.40 L233.77,168.90 L233.70,168.40 L233.64,167.90 L233.57,167.40 L233.51,166.90 L233.44,166.40 L233.37,165.90 L233.29,165.40 L233.22,164.90 L233.14,164.40 L233.06,163.90 L232.98,163.40 L232.90,162.90 L232.82,162.40 L232.73,161.90 L232.65,161.40 L232.56,160.90 L232.47,160.40 L232.38,159.90 L232.29,159.40 L232.19,158.90 L232.09,158.40 L231.98,157.90 L231.87,157.40 L231.75,156.90 L231.64,156.40 L231.52,155.90 L231.40,155.40 L231.28,154.90 L231.15,154.40 L231.02,153.90 L230.89,153.40 L230.76,152.90 L230.62,152.40 L230.48,151.90 L230.33,151.40 L230.18,150.90 L230.03,150.40 L229.87,149.90 L229.70,149.40 L229.52,148.90 L229.34,148.40 L229.15,147.90 L228.96,147.40 L228.76,146.90 L228.56,146.40 L228.36,145.90 L228.16,145.40 L227.96,144.90 L227.76,144.40 L227.56,143.90 L227.36,143.40 L227.15,142.90 L226.94,142.40 L226.74,141.90 L226.53,141.40 L226.32,140.90 L226.11,140.40 L225.91,139.90 L225.70,139.40 L225.50,138.90 L225.29,138.40 L225.09,137.90 L224.88,137.40 L224.68,136.90 L224.47,136.40 L224.27,135.90 L224.06,135.40 L223.86,134.90 L223.65,134.40 L223.43,133.90 L223.20,133.40 L222.98,132.90 L222.76,132.40 L222.54,131.90 L222.34,131.40 L222.15,130.90 L221.97,130.40 L221.82,129.90 L221.67,129.40 L221.52,128.90 L221.37,128.40 L221.22,127.90 L221.09,127.40 L220.97,126.90 L220.86,126.40 L220.78,125.90 L220.72,125.40 L220.70,124.90 L220.68,124.40 L220.66,123.90 L220.65,123.40 L220.64,122.90 L220.62,122.40 L220.62,121.90 L220.61,121.40 L220.60,120.90 L220.60,120.40 L220.60,119.90 L220.60,119.40 L220.62,118.90 L220.63,118.40 L220.65,117.90 L220.67,117.40 L220.70,116.90 L220.72,116.40 L220.75,115.90 L220.78,115.40 L220.81,114.90 L220.83,114.40 L220.86,113.90 L220.89,113.40 L220.92,112.90 L220.95,112.40 L220.99,111.90 L221.03,111.40 L221.07,110.90 L221.11,110.40 L221.16,109.90 L221.21,109.40 L221.27,108.90 L221.34,108.40 L221.41,107.90 L221.48,107.40 L221.56,106.90 L221.65,106.40 L221.73,105.90 L221.82,105.40 L221.92,104.90 L222.02,104.40 L222.13,103.90 L222.25,103.40 L222.38,102.90 L222.51,102.40 L222.64,101.90 L222.79,101.40 L222.93,100.90 L223.08,100.40 L223.23,99.90 L223.38,99.40 L223.54,98.90 L223.71,98.40 L223.88,97.90 L224.05,97.40 L224.24,96.90 L224.43,96.40 L224.62,95.90 L224.83,95.40 L225.04,94.90 L225.27,94.40 L225.50,93.90 L225.75,93.40 L226.00,92.90 L226.27,92.40 L226.54,91.90 L226.82,91.40 L227.11,90.90 L227.41,90.40 L227.72,89.90 L228.04,89.40 L228.37,88.90 L228.70,88.40 Z" fill="#ec686a" stroke="#1a1a1a" stroke-width="0.9" stroke-linejoin="round"/>
<g stroke="#0a0a0a" stroke-width="1.3" fill="none"><line x1="58.599999999999994" y1="177.1" x2="84.0" y2="177.1"/><line x1="65.05" y1="172.0" x2="77.55" y2="172.0"/><line x1="65.05" y1="181.9" x2="77.55" y2="181.9"/><line x1="71.3" y1="172.0" x2="71.3" y2="181.9"/></g><circle cx="71.3" cy="177.1" r="1.6" fill="#fff" stroke="#000" stroke-width="0.4"/>
<g stroke="#0a0a0a" stroke-width="1.3" fill="none"><line x1="108.3" y1="120.8" x2="133.7" y2="120.8"/><line x1="114.75" y1="112.5" x2="127.25" y2="112.5"/><line x1="114.75" y1="129.1" x2="127.25" y2="129.1"/><line x1="121.0" y1="112.5" x2="121.0" y2="129.1"/></g><circle cx="121.0" cy="120.8" r="1.6" fill="#fff" stroke="#000" stroke-width="0.4"/>
<g stroke="#0a0a0a" stroke-width="1.3" fill="none"><line x1="182.9" y1="260.5" x2="208.29999999999998" y2="260.5"/><line x1="189.35" y1="252.4" x2="201.85" y2="252.4"/><line x1="189.35" y1="268.4" x2="201.85" y2="268.4"/><line x1="195.6" y1="252.4" x2="195.6" y2="268.4"/></g><circle cx="195.6" cy="260.5" r="1.6" fill="#fff" stroke="#000" stroke-width="0.4"/>
<g stroke="#0a0a0a" stroke-width="1.3" fill="none"><line x1="232.60000000000002" y1="155.7" x2="258.0" y2="155.7"/><line x1="239.05" y1="138.8" x2="251.55" y2="138.8"/><line x1="239.05" y1="172.4" x2="251.55" y2="172.4"/><line x1="245.3" y1="138.8" x2="245.3" y2="172.4"/></g><circle cx="245.3" cy="155.7" r="1.6" fill="#fff" stroke="#000" stroke-width="0.4"/>
<circle cx="59.9" cy="142.9" r="2.05" fill="#000"/><circle cx="88.7" cy="147.4" r="2.05" fill="#000"/><circle cx="72.1" cy="157.9" r="2.05" fill="#000"/><circle cx="78.4" cy="168.1" r="2.05" fill="#000"/><circle cx="53.8" cy="174.2" r="2.05" fill="#000"/><circle cx="66.8" cy="177.8" r="2.05" fill="#000"/><circle cx="54.3" cy="183.9" r="2.05" fill="#000"/><circle cx="61.3" cy="185.8" r="2.05" fill="#000"/><circle cx="86.3" cy="187.7" r="2.05" fill="#000"/><circle cx="84.7" cy="190.8" r="2.05" fill="#000"/><circle cx="55.4" cy="193.1" r="2.05" fill="#000"/><circle cx="63.8" cy="194.5" r="2.05" fill="#000"/><circle cx="74.3" cy="195.0" r="2.05" fill="#000"/><circle cx="131.8" cy="70.8" r="2.05" fill="#000"/><circle cx="107.6" cy="85.9" r="2.05" fill="#000"/><circle cx="127.3" cy="92.9" r="2.05" fill="#000"/><circle cx="115.4" cy="101.2" r="2.05" fill="#000"/><circle cx="123.3" cy="104.7" r="2.05" fill="#000"/><circle cx="131.2" cy="107.4" r="2.05" fill="#000"/><circle cx="103.8" cy="112.3" r="2.05" fill="#000"/><circle cx="137.7" cy="118.4" r="2.05" fill="#000"/><circle cx="106.1" cy="124.2" r="2.05" fill="#000"/><circle cx="137.5" cy="125.6" r="2.05" fill="#000"/><circle cx="111.4" cy="156.0" r="2.05" fill="#000"/><circle cx="112.0" cy="159.7" r="2.05" fill="#000"/><circle cx="127.8" cy="161.5" r="2.05" fill="#000"/><circle cx="126.8" cy="170.8" r="2.05" fill="#000"/><circle cx="178.9" cy="206.4" r="2.05" fill="#000"/><circle cx="196.7" cy="226.2" r="2.05" fill="#000"/><circle cx="194.0" cy="238.2" r="2.05" fill="#000"/><circle cx="194.2" cy="247.1" r="2.05" fill="#000"/><circle cx="183.6" cy="247.7" r="2.05" fill="#000"/><circle cx="186.1" cy="249.2" r="2.05" fill="#000"/><circle cx="189.7" cy="252.9" r="2.05" fill="#000"/><circle cx="180.7" cy="263.0" r="2.05" fill="#000"/><circle cx="197.7" cy="278.8" r="2.05" fill="#000"/><circle cx="197.7" cy="281.0" r="2.05" fill="#000"/><circle cx="194.6" cy="296.0" r="2.05" fill="#000"/><circle cx="209.6" cy="294.9" r="2.05" fill="#000"/><circle cx="186.4" cy="305.5" r="2.05" fill="#000"/><circle cx="260.5" cy="88.9" r="2.05" fill="#000"/><circle cx="260.5" cy="104.4" r="2.05" fill="#000"/><circle cx="227.8" cy="109.0" r="2.05" fill="#000"/><circle cx="235.4" cy="113.4" r="2.05" fill="#000"/><circle cx="243.6" cy="115.1" r="2.05" fill="#000"/><circle cx="234.2" cy="118.0" r="2.05" fill="#000"/><circle cx="243.0" cy="119.2" r="2.05" fill="#000"/><circle cx="237.1" cy="124.2" r="2.05" fill="#000"/><circle cx="247.5" cy="149.8" r="2.05" fill="#000"/><circle cx="236.2" cy="170.9" r="2.05" fill="#000"/><circle cx="252.6" cy="189.1" r="2.05" fill="#000"/><circle cx="233.2" cy="213.5" r="2.05" fill="#000"/><circle cx="239.8" cy="272.0" r="2.05" fill="#000"/><circle cx="235.1" cy="291.6" r="2.05" fill="#000"/>
<path d="M71.2,67.4 V63.5 H121.3 V67.4" fill="none" stroke="#000" stroke-width="1.05"/>
<path d="M195.2,85.5 V81.7 H245.6 V85.5" fill="none" stroke="#000" stroke-width="1.05"/>
<text x="96.4" y="64.9" text-anchor="middle" class="star">***</text>
<text x="220.35" y="82.8" text-anchor="middle" class="star">***</text>
<rect x="301.5" y="168.5" width="13.3" height="13" fill="#6889e8" stroke="#1a1a1a" stroke-width="0.9"/>
<rect x="301.5" y="183.2" width="13.3" height="13" fill="#ec686a" stroke="#1a1a1a" stroke-width="0.9"/>
<circle cx="308.2" cy="175" r="2.1" fill="#000"/><circle cx="308.2" cy="189.7" r="2.1" fill="#000"/>
<text x="321.6" y="179" class="leg">NL</text>
<text x="321.6" y="193.7" class="leg">LS</text>
<line x1="442.7" y1="303.2" x2="677.3" y2="53.30000000000001" stroke="#7f7f7f" stroke-width="1.5" stroke-dasharray="6.3,6.4"/>
<path d="M442.70,124.70 L478.79,124.70 L478.79,106.85 L496.84,106.85 L496.84,71.15 L514.88,71.15 L514.88,53.30 L677.30,53.30" fill="none" stroke="#4a7dd8" stroke-width="1.6"/>
<path d="M442.70,303.20 L442.70,106.85 L460.75,106.85 L460.75,89.00 L587.07,89.00 L587.07,71.15 L623.16,71.15 L623.16,53.30 L677.30,53.30" fill="none" stroke="#e5493a" stroke-width="1.6"/>
<rect x="440.3" y="50.8" width="236.9" height="252.5" fill="none" stroke="#000" stroke-width="1.45"/>
<line x1="434.6" y1="303.20" x2="440.3" y2="303.20" stroke="#000" stroke-width="1.1"/>
<text x="429.4" y="306.70" text-anchor="end" class="tkr">0.0</text>
<line x1="442.70" y1="303.2" x2="442.70" y2="308.7" stroke="#000" stroke-width="1.1"/>
<text x="442.70" y="322.6" text-anchor="middle" class="tkr">0.0</text>
<line x1="434.6" y1="253.22" x2="440.3" y2="253.22" stroke="#000" stroke-width="1.1"/>
<text x="429.4" y="256.72" text-anchor="end" class="tkr">0.2</text>
<line x1="489.62" y1="303.2" x2="489.62" y2="308.7" stroke="#000" stroke-width="1.1"/>
<text x="489.62" y="322.6" text-anchor="middle" class="tkr">0.2</text>
<line x1="434.6" y1="203.24" x2="440.3" y2="203.24" stroke="#000" stroke-width="1.1"/>
<text x="429.4" y="206.74" text-anchor="end" class="tkr">0.4</text>
<line x1="536.54" y1="303.2" x2="536.54" y2="308.7" stroke="#000" stroke-width="1.1"/>
<text x="536.54" y="322.6" text-anchor="middle" class="tkr">0.4</text>
<line x1="434.6" y1="153.26" x2="440.3" y2="153.26" stroke="#000" stroke-width="1.1"/>
<text x="429.4" y="156.76" text-anchor="end" class="tkr">0.6</text>
<line x1="583.46" y1="303.2" x2="583.46" y2="308.7" stroke="#000" stroke-width="1.1"/>
<text x="583.46" y="322.6" text-anchor="middle" class="tkr">0.6</text>
<line x1="434.6" y1="103.28" x2="440.3" y2="103.28" stroke="#000" stroke-width="1.1"/>
<text x="429.4" y="106.78" text-anchor="end" class="tkr">0.8</text>
<line x1="630.38" y1="303.2" x2="630.38" y2="308.7" stroke="#000" stroke-width="1.1"/>
<text x="630.38" y="322.6" text-anchor="middle" class="tkr">0.8</text>
<line x1="434.6" y1="53.30" x2="440.3" y2="53.30" stroke="#000" stroke-width="1.1"/>
<text x="429.4" y="56.80" text-anchor="end" class="tkr"> .0</text>
<path transform=" translate(415.499,56.800) scale(0.004883,-0.004883)" d="M763,0 L583,0 L583,1098 Q518,1038 412,979 Q307,920 223,890 L223,1057 Q374,1125 487,1221 Q600,1318 647,1409 L763,1409 Z" fill="#1a1a1a" stroke="#111" stroke-width="0.1" vector-effect="non-scaling-stroke"/>
<line x1="677.30" y1="303.2" x2="677.30" y2="308.7" stroke="#000" stroke-width="1.1"/>
<text x="677.30" y="322.6" text-anchor="middle" class="tkr"> .0</text>
<path transform=" translate(670.349,322.600) scale(0.004883,-0.004883)" d="M763,0 L583,0 L583,1098 Q518,1038 412,979 Q307,920 223,890 L223,1057 Q374,1125 487,1221 Q600,1318 647,1409 L763,1409 Z" fill="#1a1a1a" stroke="#111" stroke-width="0.1" vector-effect="non-scaling-stroke"/>
<line x1="525.7" y1="278.3" x2="537.9" y2="278.3" stroke="#4a7dd8" stroke-width="1.6"/>
<line x1="525.7" y1="293.2" x2="537.9" y2="293.2" stroke="#e5493a" stroke-width="1.6"/>
<text x="545.2" y="282.1" class="legr">MPHOSPH6 (AUC = 0.934)</text>
<text x="545.2" y="297" class="legr">ISG20 (AUC = 0.896)</text>
<text transform="translate(559.5,338.2) scale(1,1.03)" text-anchor="middle" class="ttl2"> −Specificity (FPR)</text>
<path transform="translate(559.5,338.2) scale(1,1.03) translate(-54.518,0.000) scale(0.006201,-0.006201)" d="M763,0 L583,0 L583,1098 Q518,1038 412,979 Q307,920 223,890 L223,1057 Q374,1125 487,1221 Q600,1318 647,1409 L763,1409 Z" fill="#0a0a0a" stroke="#111" stroke-width="0.1" vector-effect="non-scaling-stroke"/>
<text transform="translate(406.6,176.7) rotate(-90)" text-anchor="middle" class="ttl">Sensitivity (TPR)</text>
<text transform="translate(10.9,17.7) scale(1.02,1.08)" class="pl">A</text>
<text transform="translate(394.8,16.2) scale(1,1.08)" class="pl">B</text>
</svg>
</body></html>
